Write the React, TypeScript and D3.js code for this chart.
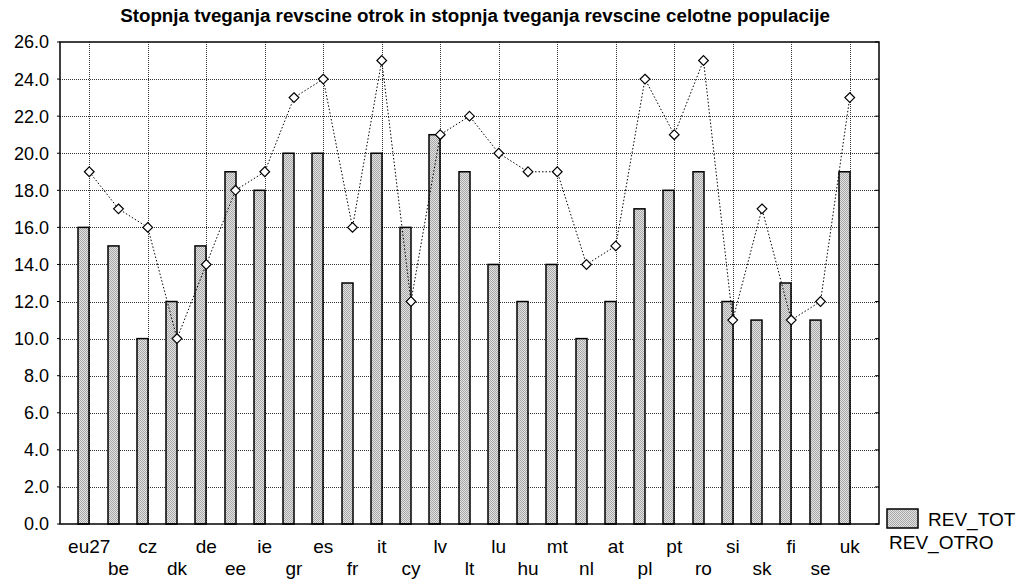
import React, { useEffect, useRef } from "react";
import * as d3 from "d3";

// Categories (countries) and both series
const countries = [
  "eu27", "be", "cz", "dk", "de", "ee", "ie", "gr", "es", "fr", "it", "cy", "lv", "lt",
  "lu", "hu", "mt", "nl", "at", "pl", "pt", "ro", "si", "sk", "fi", "se", "uk",
];
const revTot = [
  16, 15, 10, 12, 15, 19, 18, 20, 20, 13, 20, 16, 21, 19,
  14, 12, 14, 10, 12, 17, 18, 19, 12, 11, 13, 11, 19,
];
const revOtro = [
  19, 17, 16, 10, 14, 18, 19, 23, 24, 16, 25, 12, 21, 22,
  20, 19, 19, 14, 15, 24, 21, 25, 11, 17, 11, 12, 23,
];
const yTicks = d3.range(0, 27, 2);

const title = "Stopnja tveganja revscine otrok in stopnja tveganja revscine celotne populacije";

const App = () => {
  const ref = useRef<SVGSVGElement | null>(null);

  useEffect(() => {
    document.body.style.margin = "0";
    const width = 1022,
      height = 580;
    const margin = { top: 42, right: 143, bottom: 56, left: 60 };
    const font = "'Liberation Sans', Arial, sans-serif";

    const svg = d3.select(ref.current);
    svg.selectAll("*").remove();
    svg.attr("width", width).attr("height", height).style("background", "#fff");

    // checkered grey fill like the original
    const defs = svg.append("defs");
    const pat = defs
      .append("pattern")
      .attr("id", "chk")
      .attr("width", 2)
      .attr("height", 2)
      .attr("patternUnits", "userSpaceOnUse");
    pat.append("rect").attr("width", 2).attr("height", 2).attr("fill", "#e2e2e2");
    pat.append("rect").attr("width", 1).attr("height", 1).attr("fill", "#a8a8a8");
    pat.append("rect").attr("x", 1).attr("y", 1).attr("width", 1).attr("height", 1).attr("fill", "#a8a8a8");

    const x0 = margin.left,
      x1 = width - margin.right,
      y0 = margin.top,
      y1 = height - margin.bottom;

    const x = d3.scalePoint<string>().domain(countries).range([x0, x1]).padding(1);
    const y = d3.scaleLinear().domain([0, 26]).range([y1, y0]);

    // Title
    svg
      .append("text")
      .attr("x", 475)
      .attr("y", 22)
      .attr("text-anchor", "middle")
      .attr("font-family", font)
      .attr("font-weight", "bold")
      .attr("font-size", 18.8)
      .text(title);

    // Grid
    const grid = svg.append("g").attr("stroke", "#333").attr("stroke-width", 1).attr("stroke-dasharray", "1,1");
    grid
      .selectAll("line.h")
      .data(yTicks.filter((d) => d > 0 && d < 26))
      .enter()
      .append("line")
      .attr("x1", x0)
      .attr("x2", x1)
      .attr("y1", (d) => Math.round(y(d)) + 0.5)
      .attr("y2", (d) => Math.round(y(d)) + 0.5);
    grid
      .selectAll("line.v")
      .data(countries.filter((_, i) => i % 2 === 0))
      .enter()
      .append("line")
      .attr("x1", (d) => Math.round(x(d)!) + 0.5)
      .attr("x2", (d) => Math.round(x(d)!) + 0.5)
      .attr("y1", y0)
      .attr("y2", y1);

    // Bars (left of category centre)
    const barW = 11;
    svg
      .append("g")
      .selectAll("rect")
      .data(countries)
      .enter()
      .append("rect")
      .attr("x", (d) => Math.round(x(d)!) - barW)
      .attr("y", (d, i) => y(revTot[i]))
      .attr("width", barW)
      .attr("height", (d, i) => y1 - y(revTot[i]))
      .attr("fill", "url(#chk)")
      .attr("stroke", "#000")
      .attr("stroke-width", 1.5);

    // Dotted line + diamonds
    const line = d3
      .line<number>()
      .x((d, i) => x(countries[i])!)
      .y((d) => y(d));
    svg
      .append("path")
      .datum(revOtro)
      .attr("d", line)
      .attr("fill", "none")
      .attr("stroke", "#000")
      .attr("stroke-width", 1)
      .attr("stroke-dasharray", "1.5,2");
    const sym = d3.symbol().type(d3.symbolDiamond2).size(60);
    svg
      .append("g")
      .selectAll("path")
      .data(revOtro)
      .enter()
      .append("path")
      .attr("d", sym)
      .attr("transform", (d, i) => `translate(${x(countries[i])},${y(d)})`)
      .attr("fill", "#fff")
      .attr("stroke", "#000")
      .attr("stroke-width", 1.2);

    // Frame
    svg
      .append("rect")
      .attr("x", x0)
      .attr("y", y0)
      .attr("width", x1 - x0)
      .attr("height", y1 - y0)
      .attr("fill", "none")
      .attr("stroke", "#000")
      .attr("stroke-width", 1.5);

    // Y axis labels + ticks
    const yAxis = svg.append("g").attr("font-family", font).attr("font-size", 18);
    yTicks.forEach((t) => {
      yAxis
        .append("text")
        .attr("x", 49)
        .attr("y", y(t))
        .attr("dy", "0.36em")
        .attr("text-anchor", "end")
        .text(t.toFixed(1));
      yAxis.append("line").attr("x1", x0 - 3).attr("x2", x0).attr("y1", y(t)).attr("y2", y(t)).attr("stroke", "#000");
      yAxis.append("line").attr("x1", x1 - 4).attr("x2", x1).attr("y1", y(t)).attr("y2", y(t)).attr("stroke", "#000");
    });

    // X labels, staggered on two rows
    svg
      .append("g")
      .attr("font-family", font)
      .attr("font-size", 19)
      .selectAll("text")
      .data(countries)
      .enter()
      .append("text")
      .attr("x", (d) => x(d)!)
      .attr("y", (d, i) => (i % 2 === 0 ? 553 : 575))
      .attr("text-anchor", "middle")
      .text((d) => d);

    // Legend
    const lg = svg.append("g").attr("font-family", font).attr("font-size", 19);
    lg.append("rect")
      .attr("x", 887)
      .attr("y", 509)
      .attr("width", 31)
      .attr("height", 19)
      .attr("fill", "url(#chk)")
      .attr("stroke", "#000")
      .attr("stroke-width", 1.5);
    lg.append("text").attr("x", 928).attr("y", 526).text("REV_TOT");
    lg.append("text").attr("x", 889).attr("y", 549).text("REV_OTRO");
  }, []);

  return <svg ref={ref} style={{ display: "block" }}></svg>;
};

export default App;
